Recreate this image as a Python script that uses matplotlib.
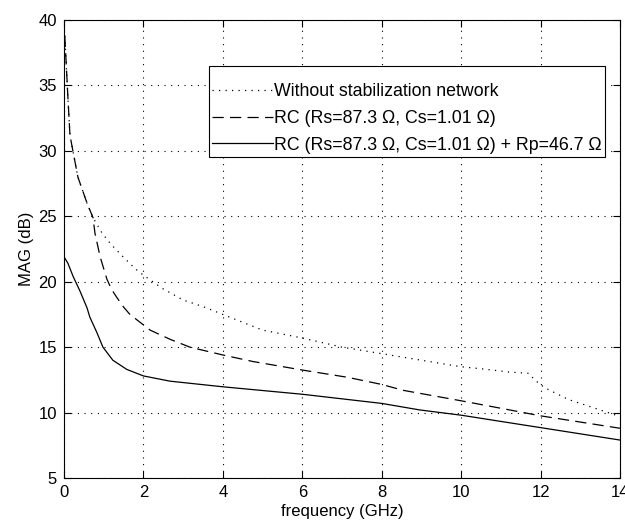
import matplotlib
matplotlib.use("Agg")
from matplotlib import pyplot as plt

# MAG vs frequency
freq_none = [0.02, 0.1, 0.15, 0.23, 0.35, 0.58, 0.73, 0.96, 1.2, 1.49, 1.79, 2.0, 2.47, 3.0, 3.5,
             4.0, 5.0, 6.0, 7.0, 8.0, 9.0, 10.0, 10.5, 11.2, 11.7, 11.85, 12.1, 12.7, 13.3, 14.0]
mag_none = [38.8, 34.0, 31.2, 29.9, 28.0, 26.0, 24.9, 23.7, 22.8, 21.9, 21.0, 20.5, 19.5, 18.6, 18.1,
            17.5, 16.3, 15.7, 15.0, 14.5, 14.0, 13.5, 13.35, 13.1, 13.0, 12.5, 11.9, 11.0, 10.4, 9.7]

freq_rc = [0.02, 0.1, 0.15, 0.23, 0.35, 0.58, 0.73, 0.78, 0.91, 1.08, 1.2, 1.33, 1.49, 1.66, 2.0,
           2.17, 2.67, 3.17, 4.0, 4.76, 6.0, 7.13, 8.0, 8.54, 10.0, 11.05, 12.0, 14.0]
mag_rc = [38.8, 34.0, 31.2, 29.9, 28.0, 26.0, 24.9, 23.7, 21.9, 20.2, 19.4, 18.8, 18.1, 17.5, 16.7,
          16.3, 15.6, 15.0, 14.4, 13.9, 13.25, 12.7, 12.15, 11.7, 10.9, 10.3, 9.75, 8.8]

freq_rcp = [0.0, 0.1, 0.23, 0.4, 0.58, 0.65, 0.83, 0.98, 1.23, 1.58, 2.0, 2.67, 4.0, 6.0, 8.0,
            8.96, 10.0, 11.05, 12.0, 14.0]
mag_rcp = [21.9, 21.4, 20.4, 19.3, 18.0, 17.3, 16.1, 15.0, 14.0, 13.3, 12.8, 12.4, 11.97, 11.4, 10.7,
           10.2, 9.8, 9.3, 8.85, 7.9]

labels = ["Without stabilization network",
          "RC (Rs=87.3 \u03a9, Cs=1.01 \u03a9)",
          "RC (Rs=87.3 \u03a9, Cs=1.01 \u03a9) + Rp=46.7 \u03a9"]

plt.rcParams["font.family"] = ["Liberation Sans", "DejaVu Sans"]
plt.rcParams["font.size"] = 12

fig = plt.figure(figsize=(6.25, 5.29), dpi=100)
ax = fig.add_axes([64 / 625, 51 / 529, 556 / 625, 458 / 529])

ax.plot(freq_none, mag_none, color="black", lw=0.9, linestyle=(0, (1, 4.2)), label=labels[0])
ax.plot(freq_rc, mag_rc, color="black", lw=0.9, linestyle=(0, (9, 5)), label=labels[1])
ax.plot(freq_rcp, mag_rcp, color="black", lw=0.9, linestyle="-", label=labels[2])

ax.set_xlim(0, 14)
ax.set_ylim(5, 40)
ax.set_xticks(range(0, 15, 2))
ax.set_yticks(range(5, 41, 5))
ax.grid(True, color="black", lw=0.8, linestyle=(0, (1, 5)))
ax.tick_params(direction="in", length=5, width=0.8, top=True, right=True, pad=5, labelsize=12)
for s in ax.spines.values():
    s.set_linewidth(0.8)

ax.set_xlabel("frequency (GHz)", fontsize=12, labelpad=3)
ax.set_ylabel("MAG (dB)", fontsize=12, labelpad=3)

# blank title pushes the rows down, like the MATLAB legend box
leg = ax.legend(loc="upper right", bbox_to_anchor=(0.973, 0.9), borderaxespad=0, fancybox=False,
                framealpha=1, edgecolor="black", handlelength=3.4, handletextpad=0.05, borderpad=0.2,
                labelspacing=0.55, fontsize=12.8, title=" ", title_fontsize=3)
leg.get_frame().set_linewidth(0.8)

fig.savefig("out.png", dpi=100)
